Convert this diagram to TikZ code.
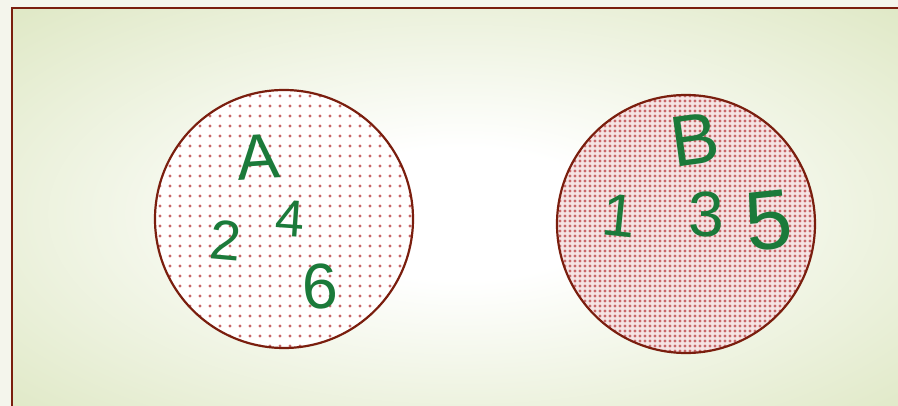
\documentclass[tikz,border=0pt]{standalone}
\usepackage{fontspec}
\setmainfont{Liberation Sans}
\usetikzlibrary{patterns.meta}
\definecolor{outerbg}{HTML}{F4F5EC}
\definecolor{bggreen}{HTML}{DCE6C0}
\definecolor{frame}{HTML}{7A1E0E}
\definecolor{dotred}{HTML}{C8686A}
\definecolor{ink}{HTML}{1B7A3A}
\pgfdeclareradialshading{bgrad}{\pgfpoint{0bp}{0bp}}{color(0bp)=(white); color(8bp)=(white); color(38bp)=(bggreen); color(60bp)=(bggreen)}
\tikzset{
  setcircle/.style={draw=frame, line width=2.2pt},
  hand/.style={text=ink, inner sep=0pt, font=\fontsize{#1}{#1}\selectfont},
}
\begin{document}
\begin{tikzpicture}[x=1pt,y=-1pt]
\useasboundingbox (0,0) rectangle (898,406);
\clip (0,0) rectangle (898,406);
\fill[outerbg] (0,0) rectangle (898,406);
\shade[shading=bgrad] (12,8) rectangle (910,420);
\draw[frame, line width=2.8pt] (12,430) -- (12,8) -- (920,8);
% left circle
\fill[white] (284,219) circle (129);
\fill[pattern={Dots[distance=10pt, radius=1.6pt]}, pattern color=dotred] (284,219) circle (129);
\node[setcircle, circle, minimum size=258pt, inner sep=0pt] (A) at (284,219) {};
% right circle
\fill[white!82!dotred] (686,224) circle (129);
\fill[pattern={Dots[distance=5pt, radius=1.6pt]}, pattern color=dotred] (686,224) circle (129);
\node[setcircle, circle, minimum size=258pt, inner sep=0pt] (B) at (686,224) {};
% labels
\node[hand=64, rotate=4] (la) at (258,157) {A};
\node[hand=56, rotate=-5] (l2) at (226,240) {2};
\node[hand=52, rotate=-4] (l4) at (290,219) {4};
\node[hand=64, rotate=3] (l6) at (320,287) {6};
\node[hand=72, rotate=8] (lb) at (695,140) {B};
\node[hand=60, rotate=-6] (l1) at (619,216) {1};
\node[hand=64] (l3) at (706,214) {3};
\node[hand=84, rotate=6] (l5) at (769,221) {5};
\end{tikzpicture}
\end{document}
